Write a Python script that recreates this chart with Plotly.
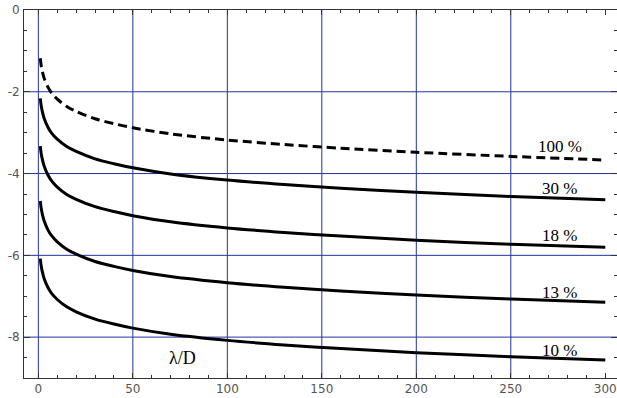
import plotly.graph_objects as go

# x positions (lambda/D) at which curve values were read
x_vals = [1, 1.5, 2, 3, 5, 7, 10, 15, 20, 30, 40, 50, 70, 100, 130, 160, 200, 250, 300]

y_100 = [-1.18, -1.36, -1.48, -1.66, -1.88, -2.03, -2.18, -2.36, -2.48, -2.66, -2.78, -2.88, -3.03, -3.18, -3.29, -3.38, -3.48, -3.58, -3.67]
y_30 = [-2.16, -2.34, -2.46, -2.64, -2.86, -3.01, -3.16, -3.34, -3.46, -3.64, -3.76, -3.86, -4.01, -4.16, -4.27, -4.36, -4.46, -4.56, -4.64]
y_18 = [-3.33, -3.51, -3.63, -3.81, -4.03, -4.18, -4.33, -4.51, -4.63, -4.81, -4.93, -5.03, -5.18, -5.33, -5.44, -5.53, -5.63, -5.73, -5.80]
y_13 = [-4.67, -4.85, -4.97, -5.15, -5.37, -5.52, -5.67, -5.85, -5.97, -6.15, -6.27, -6.37, -6.52, -6.67, -6.78, -6.87, -6.97, -7.07, -7.15]
y_10 = [-6.08, -6.26, -6.38, -6.56, -6.78, -6.93, -7.08, -7.26, -7.38, -7.56, -7.68, -7.78, -7.93, -8.08, -8.19, -8.28, -8.38, -8.48, -8.56]

labels = ["100 %", "30 %", "18 %", "13 %", "10 %"]
label_x = [276, 276, 276, 276, 276]
label_y = [-3.35, -4.37, -5.51, -6.90, -8.32]

x_ticks = [0, 50, 100, 150, 200, 250, 300]
y_ticks = [0, -2, -4, -6, -8]
grid_x = [0, 50, 100, 150, 200, 250]
grid_y = [-2, -4, -6, -8]

GRID = "#2233a0"

fig = go.Figure()
series = [(y_100, "dash"), (y_30, "solid"), (y_18, "solid"), (y_13, "solid"), (y_10, "solid")]
for ys, dash in series:
    fig.add_trace(go.Scatter(
        x=x_vals, y=ys, mode="lines",
        line=dict(color="black", width=3, shape="spline", smoothing=0.8,
                  dash="9px,5px" if dash == "dash" else "solid"),
        showlegend=False, hoverinfo="skip"))

shapes = []
for gx in grid_x:
    shapes.append(dict(type="line", xref="x", yref="paper", x0=gx, x1=gx, y0=0, y1=1,
                       line=dict(color=GRID, width=1), layer="below"))
for gy in grid_y:
    shapes.append(dict(type="line", xref="paper", yref="y", x0=0, x1=1, y0=gy, y1=gy,
                       line=dict(color=GRID, width=1), layer="below"))

annotations = []
for t, lx, ly in zip(labels, label_x, label_y):
    annotations.append(dict(x=lx, y=ly, xref="x", yref="y", text=t, showarrow=False,
                            font=dict(family="Liberation Serif", size=17, color="black"),
                            xanchor="center", yanchor="middle"))
annotations.append(dict(x=76.5, y=-8.52, xref="x", yref="y", text="λ/D", showarrow=False,
                        font=dict(family="Liberation Serif", size=18, color="black"),
                        xanchor="center", yanchor="middle"))

tickfont = dict(family="DejaVu Sans", size=12, color="#555555")

fig.update_layout(
    width=617, height=398,
    margin=dict(l=24, r=0, t=10, b=20, autoexpand=False),
    paper_bgcolor="white", plot_bgcolor="white",
    shapes=shapes, annotations=annotations,
    xaxis=dict(range=[-7.6, 306.2], tickmode="array", tickvals=x_ticks,
               ticktext=[str(v) for v in x_ticks], automargin=False,
               showgrid=False, zeroline=False, showline=True, linecolor="#333333", linewidth=1,
               mirror="ticks", ticks="inside", ticklen=5, tickcolor="#333333", tickwidth=1,
               minor=dict(dtick=10, tick0=0, ticks="inside", ticklen=3, tickcolor="#333333", showgrid=False),
               tickfont=tickfont, ticklabelstandoff=0),
    yaxis=dict(range=[-9, 0], tickmode="array", tickvals=y_ticks,
               ticktext=["0" if v == 0 else "-" + str(abs(v)) for v in y_ticks], automargin=False,
               showgrid=False, zeroline=False, showline=True, linecolor="#333333", linewidth=1,
               mirror="ticks", ticks="inside", ticklen=6, tickcolor="#333333", tickwidth=1,
               minor=dict(dtick=0.5, tick0=0, ticks="inside", ticklen=3, tickcolor="#333333", showgrid=False),
               tickfont=tickfont, ticklabelstandoff=1),
)

fig.write_html("out.html")
